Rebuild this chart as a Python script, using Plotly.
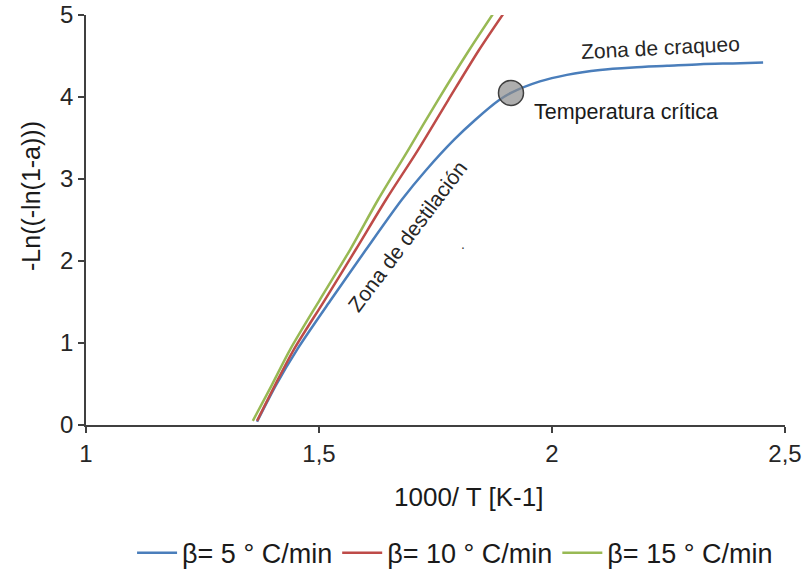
import plotly.graph_objects as go

# Data (1000/T in K^-1, -Ln(-ln(1-a)))
x_b5 = [1.367, 1.408, 1.453, 1.526, 1.601, 1.678, 1.730, 1.790, 1.835, 1.886, 1.912,
        1.974, 2.032, 2.103, 2.174, 2.247, 2.318, 2.388, 2.453]
y_b5 = [0.04, 0.49, 0.92, 1.53, 2.14, 2.75, 3.11, 3.48, 3.72, 3.96, 4.05,
        4.19, 4.27, 4.33, 4.36, 4.38, 4.40, 4.41, 4.42]

x_b10 = [1.367, 1.406, 1.446, 1.513, 1.579, 1.644, 1.712, 1.777, 1.843, 1.895]
y_b10 = [0.05, 0.49, 0.92, 1.53, 2.14, 2.75, 3.35, 3.96, 4.57, 5.01]

x_b15 = [1.358, 1.399, 1.438, 1.502, 1.567, 1.627, 1.691, 1.755, 1.822, 1.873]
y_b15 = [0.05, 0.49, 0.92, 1.53, 2.14, 2.75, 3.35, 3.96, 4.57, 5.01]

critical_x = [1.912]
critical_y = [4.05]

series_names = ["β= 5 ° C/min", "β= 10 ° C/min", "β= 15 ° C/min"]
series_colors = ["#4A7EBB", "#BE4B48", "#98B954"]

x_tickvals = [1, 1.5, 2, 2.5]
x_ticktext = ["1", "1,5", "2", "2,5"]
y_tickvals = [0, 1, 2, 3, 4, 5]

FONT = "Liberation Sans, Arial, sans-serif"

fig = go.Figure()
for xs, ys, name, col in zip([x_b5, x_b10, x_b15], [y_b5, y_b10, y_b15],
                             series_names, series_colors):
    fig.add_trace(go.Scatter(x=xs, y=ys, mode="lines", name=name,
                             line=dict(color=col, width=2.5, shape="spline", smoothing=0.8)))

fig.add_trace(go.Scatter(x=critical_x, y=critical_y, mode="markers", showlegend=False,
                         marker=dict(symbol="circle", size=25,
                                     color="rgba(140,140,140,0.7)",
                                     line=dict(color="#404040", width=1.5)),
                         hoverinfo="skip"))

fig.update_layout(
    width=804, height=572,
    margin=dict(l=86, r=19, t=15, b=147, autoexpand=False),
    plot_bgcolor="white", paper_bgcolor="white",
    font=dict(family=FONT, size=22, color="#262626"),
    showlegend=True,
    legend=dict(orientation="h", x=0.566, xanchor="center", xref="container",
                y=0.033, yanchor="middle", yref="container",
                font=dict(size=27, color="#1a1a1a"), itemwidth=40, tracegroupgap=0,
                bgcolor="rgba(0,0,0,0)"),
    xaxis=dict(range=[1, 2.5], tickvals=x_tickvals, ticktext=x_ticktext, automargin=False,
               showgrid=False, zeroline=False, showline=True, linecolor="#404040",
               linewidth=1.5, ticks="outside", ticklen=6, tickcolor="#404040",
               tickwidth=1.5, tickfont=dict(size=24, color="#262626"), fixedrange=True),
    yaxis=dict(range=[0, 5], tickvals=y_tickvals, automargin=False,
               showgrid=False, zeroline=False, showline=True, linecolor="#404040",
               linewidth=1.5, ticks="outside", ticklen=6, tickcolor="#404040",
               tickwidth=1.5, tickfont=dict(size=24, color="#262626"), fixedrange=True),
)

annotations = [
    dict(text="Zona de craqueo", x=660, y=572 - 48, textangle=-3, font=dict(size=21, color="#262626")),
    dict(text="Temperatura crítica", x=626, y=572 - 112, font=dict(size=21.5, color="#1a1a1a")),
    dict(text="Zona de destilación", x=407, y=572 - 236, textangle=-53, font=dict(size=21, color="#262626")),
    dict(text=".", x=463, y=572 - 244, font=dict(size=14, color="#404040")),
    dict(text="-Ln((-ln(1-a)))", x=31, y=572 - 196, textangle=-90, font=dict(size=25, color="#1a1a1a")),
    dict(text="1000/ T [K-1]", x=468, y=572 - 497, font=dict(size=26, color="#1a1a1a")),
]
for a in annotations:
    fig.add_annotation(xref="paper", yref="paper", showarrow=False,
                       x=(a["x"] - 86) / (785 - 86), y=(a["y"] - 147) / (572 - 147 - 15),
                       xanchor="center", yanchor="middle",
                       text=a["text"], textangle=a.get("textangle", 0), font=a["font"])

fig.write_html("out.html")
